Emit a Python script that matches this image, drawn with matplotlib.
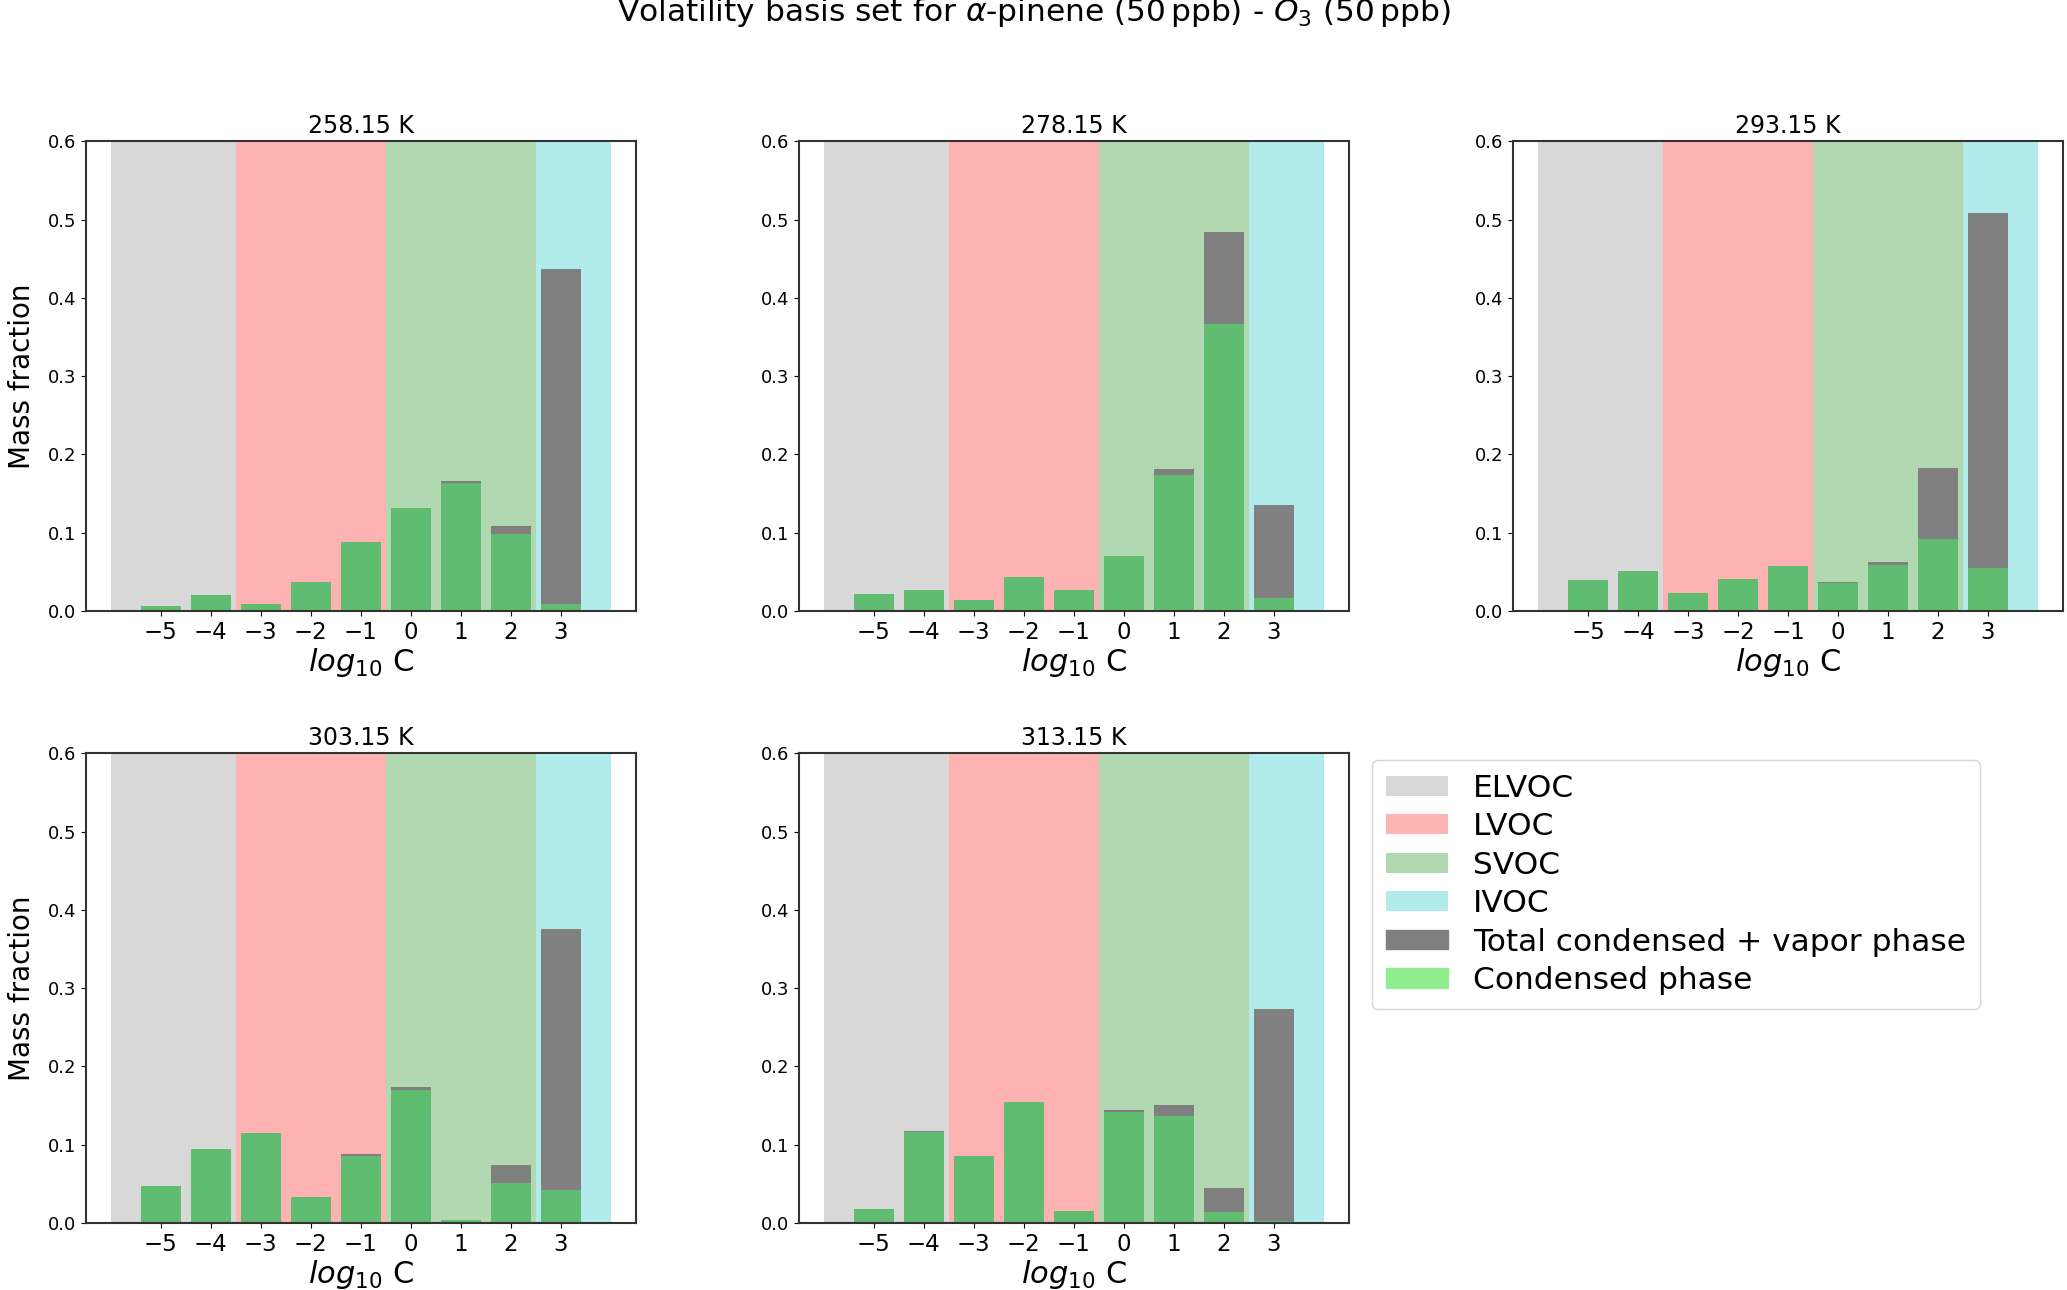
import numpy as np
import matplotlib
matplotlib.use("Agg")
from matplotlib import pyplot as plt
from matplotlib.patches import Patch

# volatility bins, log10 C*
bins = np.array([-5, -4, -3, -2, -1, 0, 1, 2, 3])
temps = ['258.15 K', '278.15 K', '293.15 K', '303.15 K', '313.15 K']

# total (condensed + vapor) mass fraction per bin, one list per temperature
total = [
    [0.006, 0.020, 0.0085, 0.037, 0.088, 0.132, 0.166, 0.109, 0.437],
    [0.022, 0.026, 0.014, 0.043, 0.027, 0.070, 0.181, 0.484, 0.135],
    [0.039, 0.051, 0.023, 0.041, 0.057, 0.037, 0.063, 0.183, 0.508],
    [0.047, 0.095, 0.115, 0.033, 0.088, 0.174, 0.0035, 0.074, 0.375],
    [0.018, 0.118, 0.086, 0.155, 0.015, 0.144, 0.151, 0.044, 0.273],
]
# condensed phase mass fraction per bin
condensed = [
    [0.006, 0.020, 0.0085, 0.037, 0.088, 0.132, 0.163, 0.098, 0.009],
    [0.022, 0.026, 0.014, 0.043, 0.027, 0.070, 0.174, 0.366, 0.017],
    [0.039, 0.051, 0.023, 0.041, 0.057, 0.036, 0.059, 0.092, 0.055],
    [0.047, 0.095, 0.115, 0.033, 0.086, 0.170, 0.0035, 0.051, 0.042],
    [0.018, 0.116, 0.086, 0.155, 0.015, 0.142, 0.136, 0.014, 0.003],
]

# volatility classes: (name, from, to, colour)
classes = [('ELVOC', -6.0, -3.5, 'gray'),
           ('LVOC', -3.5, -0.5, 'red'),
           ('SVOC', -0.5, 2.5, 'green'),
           ('IVOC', 2.5, 4.0, 'c')]

fig = plt.figure(figsize=(20.67, 12.9), dpi=100)

lefts = [0.0415, 0.3865, 0.732, 0.0415, 0.3865]
bottoms = [0.5265, 0.5265, 0.5265, 0.052, 0.052]
w, h = 0.266, 0.364

for i, t in enumerate(temps):
    ax = fig.add_axes([lefts[i], bottoms[i], w, h])
    for name, a, b, col in classes:
        ax.axvspan(a, b, color=col, alpha=0.3, lw=0)
    ax.bar(bins, total[i], width=0.8, color='gray')
    ax.bar(bins, condensed[i], width=0.8, color='#60bc70')
    ax.set_xlim(-6.5, 4.5)
    ax.set_ylim(0, 0.6)
    ax.set_xticks(bins)
    ax.set_yticks(np.arange(0, 0.61, 0.1))
    ax.tick_params(axis='x', labelsize=16.5)
    ax.tick_params(axis='y', labelsize=13)
    ax.set_title(t, fontsize=17)
    ax.set_xlabel(r'$log_{10}$ C', fontsize=22, labelpad=2)
    if i % 3 == 0:
        ax.set_ylabel('Mass fraction', fontsize=20, labelpad=8)
    for s in ax.spines.values():
        s.set_color('#333333')
        s.set_linewidth(1.5)

handles = [Patch(color=col, alpha=0.3, lw=0) for _, _, _, col in classes]
handles += [Patch(color='gray'), Patch(color='lightgreen')]
labels = [c[0] for c in classes] + ['Total condensed + vapor phase', 'Condensed phase']
fig.legend(handles, labels, loc='upper left', bbox_to_anchor=(0.656, 0.423),
           fontsize=22.5, handlelength=2.0, handleheight=0.6, labelspacing=0.3,
           borderpad=0.45)

fig.suptitle(r'Volatility basis set for $\alpha$-pinene (50$\,$ppb) - $O_3$ (50$\,$ppb)',
             fontsize=22.5, y=1.003, va='top')

plt.savefig('out.png', dpi=100)
